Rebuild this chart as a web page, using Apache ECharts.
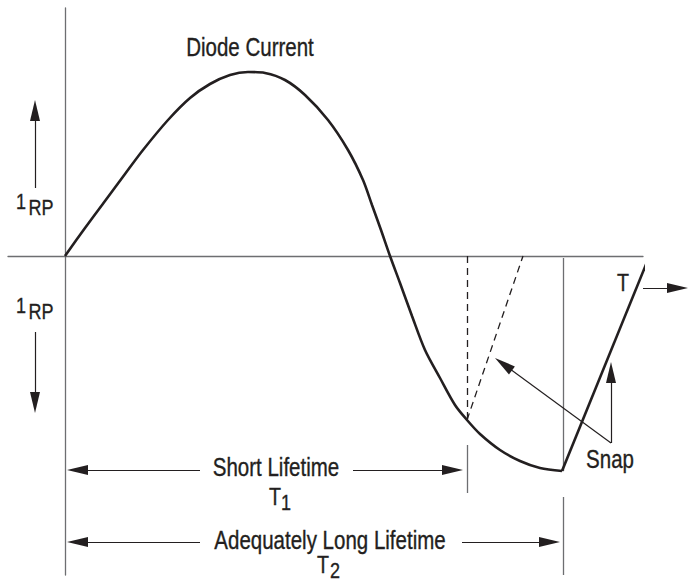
<!DOCTYPE html>
<html>
<head>
<meta charset="utf-8">
<title>Diode Current</title>
<script src="https://cdn.jsdelivr.net/npm/echarts@6/dist/echarts.min.js"></script>
<style>
    html, body { margin: 0; padding: 0; background: #fff; }
    #chart { width: 691px; height: 582px; }
</style>
</head>
<body>
<div id="chart"></div>
<script>
// Diode current vs time, arbitrary units, origin where the two axes cross
const curveTime = [0, 20, 40, 60, 78, 103, 125, 145, 165, 183, 200, 220, 240, 263, 283, 298, 307, 316, 325,
    335, 347, 360, 375, 390, 402, 415, 435, 455, 475, 497]
const curveCurrent = [0, 28, 55, 82, 106, 136, 158, 172, 181, 184, 183, 176, 161, 136, 106, 76, 51, 26, 0,
    -27, -60, -94, -122, -149, -164, -178, -194, -205, -212, -215]

// snap-off ramp after the adequately long lifetime
const snapTime = [497, 582]
const snapCurrent = [-215, -6]

// end of the stored-charge phase
const shortLifetimeEnd = 402   // T1
const longLifetimeEnd = 498    // T2
const shortSnapTop = 458       // where the dashed snap of T1 meets the axis

const axisRange = { tMin: -57, tMax: 578, iMin: -319, iMax: 248 }

const ink = '#231f20'
const grey = '#6d6e71'
const FONT = "'Liberation Sans', Arial, sans-serif"
const CONDENSE = 0.82   // narrow face look
const HEAD = [10, 21]

const zip = (a, b) => a.map((v, i) => [v, b[i]])
const seg = (a, b) => ({ coords: [a, b] })

// triangle is centred on the end point, so stop half a head before the tip
const arrow = (tail, tip) => {
    const dx = tip[0] - tail[0]
    const dy = tip[1] - tail[1]
    const len = Math.hypot(dx, dy)
    const k = (len - HEAD[1] / 2) / len
    return { coords: [tail, [tail[0] + dx * k, tail[1] + dy * k]] }
}

const shortAt = curveCurrent[curveTime.indexOf(shortLifetimeEnd)]
const bottom = snapCurrent[0]

// annotations (subscripts are their own entries)
const labels = [
    { text: 'Diode Current', at: [185, 209], size: 25 },
    { text: '1', at: [-44, 55], size: 22 },
    { text: 'RP', at: [-24, 49], size: 22 },
    { text: '1', at: [-44, -49], size: 22 },
    { text: 'RP', at: [-24, -55], size: 22 },
    { text: 'T', at: [558, -27], size: 24 },
    { text: 'Short Lifetime', at: [211, -211], size: 25 },
    { text: 'T', at: [210, -241], size: 24 },
    { text: '1', at: [221, -246], size: 22 },
    { text: 'Adequately Long Lifetime', at: [265, -284], size: 25 },
    { text: 'T', at: [258, -309], size: 24 },
    { text: '2', at: [270, -314], size: 22 },
    { text: 'Snap', at: [545, -203], size: 25 }
]

const arrows = [
    arrow([-30, 68], [-30, 156]),
    arrow([-30, -76], [-30, -157]),
    arrow([578, -32], [623, -32]),
    arrow([135, -214], [2, -214]),
    arrow([288, -214], [shortLifetimeEnd - 4, -214]),
    arrow([135, -286], [2, -286]),
    arrow([397, -286], [longLifetimeEnd - 3, -286]),
    arrow([546, -187], [546, -106]),
    arrow([546, -187], [430, -102])
]

const chart = echarts.init(document.getElementById('chart'), null, { renderer: 'svg' })

const hiddenAxis = (min, max) => ({
    type: 'value',
    min,
    max,
    axisLine: { show: true, onZero: true, lineStyle: { color: grey, width: 1.3 } },
    axisTick: { show: false },
    axisLabel: { show: false },
    splitLine: { show: false }
})

chart.setOption({
    animation: false,
    backgroundColor: '#fff',
    grid: { left: 8, right: 48, top: 8, bottom: 7 },
    xAxis: hiddenAxis(axisRange.tMin, axisRange.tMax),
    yAxis: hiddenAxis(axisRange.iMin, axisRange.iMax),
    series: [
        {
            name: 'Diode Current',
            type: 'line',
            data: zip(curveTime, curveCurrent),
            smooth: 0.3,
            showSymbol: false,
            lineStyle: { color: ink, width: 2.6 },
            z: 5
        },
        {
            name: 'Snap',
            type: 'line',
            data: zip(snapTime, snapCurrent),
            showSymbol: false,
            clip: false,
            lineStyle: { color: ink, width: 2.6 },
            z: 5
        },
        {
            type: 'lines',
            coordinateSystem: 'cartesian2d',
            lineStyle: { color: ink, width: 1.3, type: [7, 5], opacity: 1 },
            data: [
                seg([shortLifetimeEnd, 0], [shortLifetimeEnd, shortAt]),
                seg([shortLifetimeEnd, shortAt], [shortSnapTop, 0])
            ]
        },
        {
            type: 'lines',
            coordinateSystem: 'cartesian2d',
            lineStyle: { color: grey, width: 1.3, opacity: 1 },
            data: [
                seg([longLifetimeEnd, -2], [longLifetimeEnd, bottom]),
                seg([longLifetimeEnd, -241], [longLifetimeEnd, axisRange.iMin]),
                seg([shortLifetimeEnd, -189], [shortLifetimeEnd, -237])
            ]
        },
        {
            type: 'lines',
            coordinateSystem: 'cartesian2d',
            clip: false,
            symbol: ['none', 'triangle'],
            symbolSize: [HEAD, HEAD],
            lineStyle: { color: ink, width: 1.2, opacity: 1 },
            itemStyle: { color: ink },
            data: arrows
        },
        {
            type: 'custom',
            clip: false,
            data: labels.map(l => l.at),
            renderItem: (params, api) => {
                const l = labels[params.dataIndex]
                const p = api.coord(l.at)
                return {
                    type: 'text',
                    x: p[0],
                    y: p[1],
                    scaleX: CONDENSE,
                    style: {
                        text: l.text,
                        fontFamily: FONT,
                        fontSize: l.size,
                        fill: ink,
                        stroke: ink,
                        lineWidth: 0.35,
                        align: 'center',
                        verticalAlign: 'middle'
                    }
                }
            },
            z: 10
        }
    ]
})
</script>
</body>
</html>
